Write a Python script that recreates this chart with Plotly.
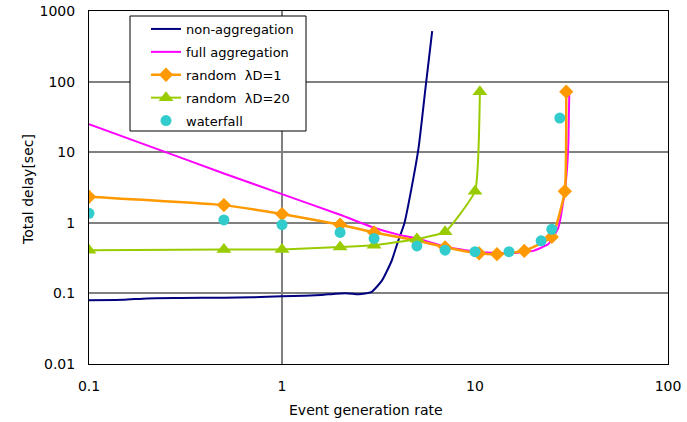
import plotly.graph_objects as go

# ---- data ----
nonagg_x = [0.1, 0.15, 0.2, 0.3, 0.5, 0.7, 1, 1.3, 1.6, 1.9, 2.2, 2.5, 2.9, 3.3, 3.7, 4.0, 4.3, 4.7, 5.1, 5.55, 6.0]
nonagg_y = [0.080, 0.081, 0.085, 0.086, 0.087, 0.088, 0.091, 0.093, 0.095, 0.099, 0.1, 0.097, 0.104, 0.153, 0.29, 0.555, 0.97, 3.2, 11.5, 85, 520]

full_x = [0.1, 0.2, 0.5, 1, 2, 3, 4, 5, 7, 10, 15, 20, 24, 27, 29, 30, 30.5, 30.8]
full_y = [25, 12.5, 5.0, 2.55, 1.3, 0.85, 0.68, 0.6, 0.46, 0.39, 0.37, 0.40, 0.5, 0.85, 2.5, 6, 15, 70]

rand1_x = [0.1, 0.5, 1, 2, 3, 5, 7, 10.5, 13, 18, 25, 29.2, 29.7]
rand1_y = [2.34, 1.78, 1.33, 0.94, 0.73, 0.56, 0.45, 0.37, 0.36, 0.40, 0.63, 2.8, 72]

rand20_x = [0.1, 0.5, 1, 2, 3, 5, 7, 10, 10.6]
rand20_y = [0.41, 0.42, 0.42, 0.456, 0.48, 0.59, 0.745, 2.8, 72]

water_x = [0.1, 0.5, 1, 2, 3, 5, 7, 10, 15, 22, 25, 27.5]
water_y = [1.36, 1.10, 0.94, 0.73, 0.60, 0.47, 0.41, 0.39, 0.39, 0.555, 0.81, 30.4]

x_ticks = [0.1, 1, 10, 100]
x_ticktext = ["0.1", "1", "10", "100"]
y_ticks = [0.01, 0.1, 1, 10, 100, 1000]
y_ticktext = ["0.01", "0.1", "1", "10", "100", "1000"]

FONT = "DejaVu Sans, sans-serif"

L, R, T, B = 89, 668, 11, 364
PW, PH = R - L, B - T

fig = go.Figure()

# vertical line at x=1 (axis crossing)
fig.add_trace(go.Scatter(x=[1, 1], y=[y_ticks[0], y_ticks[-1]], mode="lines",
                         line=dict(color="#808080", width=2), showlegend=False, hoverinfo="skip"))

fig.add_trace(go.Scatter(x=nonagg_x, y=nonagg_y, mode="lines", name="non-aggregation",
                         line=dict(color="#000080", width=2, shape="spline", smoothing=0.5),
                         legendgroup="a"))
fig.add_trace(go.Scatter(x=full_x, y=full_y, mode="lines", name="full aggregation",
                         line=dict(color="#FF00FF", width=2, shape="spline", smoothing=0.4),
                         legendgroup="b"))
fig.add_trace(go.Scatter(x=rand1_x, y=rand1_y, mode="lines+markers", name="random  λD=1",
                         line=dict(color="#FF9900", width=2.5, shape="spline", smoothing=0.4),
                         marker=dict(symbol="diamond", size=11, color="#FF9900"),
                         legendgroup="c"))
fig.add_trace(go.Scatter(x=rand20_x, y=rand20_y, mode="lines+markers", name="random  λD=20",
                         line=dict(color="#99CC00", width=2, shape="spline", smoothing=0.4),
                         marker=dict(symbol="triangle-up", size=13, color="#99CC00"),
                         legendgroup="d"))
fig.add_trace(go.Scatter(x=water_x, y=water_y, mode="markers", name="waterfall",
                         marker=dict(symbol="circle", size=11, color="#33CCCC"),
                         legendgroup="e"))

# legend frame
fig.add_shape(type="rect", xref="paper", yref="paper",
              x0=(130 - L) / PW, x1=(306 - L) / PW,
              y0=(B - 131) / PH, y1=(B - 16) / PH,
              line=dict(color="black", width=1), fillcolor="white", layer="above")

# axis titles
fig.add_annotation(text="Event generation rate", xref="paper", yref="paper",
                   x=(366 - L) / PW, y=(B - 410) / PH, showarrow=False,
                   xanchor="center", yanchor="middle", font=dict(size=14))
fig.add_annotation(text="Total delay[sec]", xref="paper", yref="paper",
                   x=(28 - L) / PW, y=(B - 190) / PH, showarrow=False, textangle=-90,
                   xanchor="center", yanchor="middle", font=dict(size=14))

fig.update_layout(
    width=687, height=422,
    margin=dict(l=L, r=687 - R, t=T, b=422 - B, autoexpand=False),
    paper_bgcolor="white", plot_bgcolor="white",
    font=dict(family=FONT, size=13, color="black"),
    showlegend=True,
    legend=dict(x=(146 - L) / PW, y=(B - 14) / PH, xanchor="left", yanchor="top",
                bgcolor="rgba(0,0,0,0)", borderwidth=0,
                font=dict(family=FONT, size=13), tracegroupgap=3,
                traceorder="grouped"),
    xaxis=dict(type="log", range=[-1, 2], tickvals=x_ticks, ticktext=x_ticktext,
               showgrid=False, showline=True, mirror=True, linecolor="black", linewidth=1,
               ticks="", ticklabelstandoff=9, zeroline=False, automargin=False,
               tickfont=dict(size=14)),
    yaxis=dict(type="log", range=[-2, 3], tickvals=y_ticks, ticktext=y_ticktext,
               showgrid=True, gridcolor="#808080", gridwidth=2,
               showline=True, mirror=True, linecolor="black", linewidth=1,
               ticks="", ticklabelstandoff=10, zeroline=False, automargin=False,
               tickfont=dict(size=14)),
)

fig.write_html("out.html")
